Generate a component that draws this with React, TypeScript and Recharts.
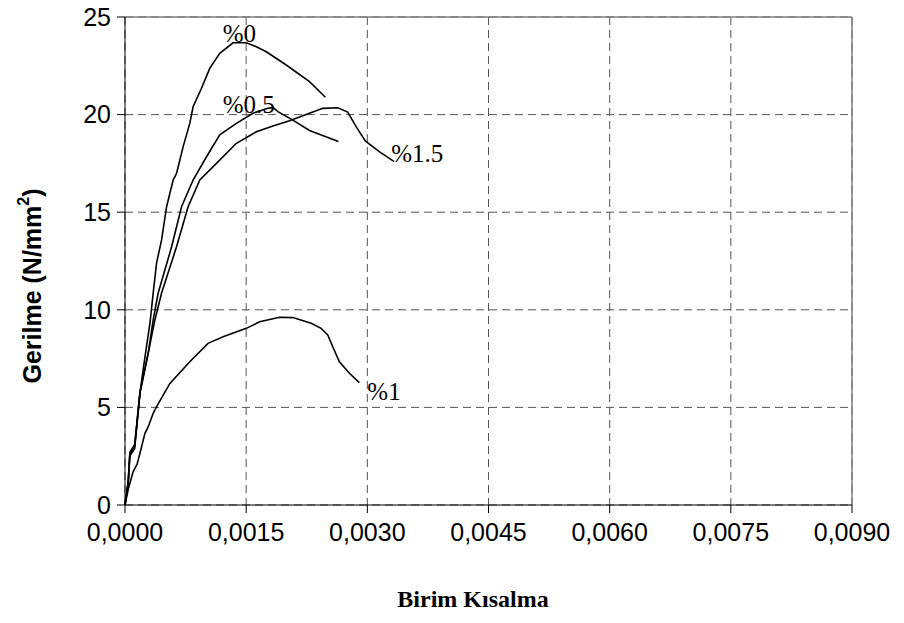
import React from "react";
import {
  ComposedChart,
  Line,
  Scatter,
  XAxis,
  YAxis,
  CartesianGrid,
  ReferenceLine,
} from "recharts";

// Birim kısalma (strain) ve gerilme (N/mm2) değerleri
const strain0 = [0, 0.00004, 0.00006, 0.00012, 0.000185, 0.000247, 0.000309, 0.000349, 0.000391, 0.000453, 0.000515, 0.000596, 0.000638, 0.00072, 0.000802, 0.000843, 0.000947, 0.001049, 0.001173, 0.001337, 0.001502, 0.001626, 0.001749, 0.001996, 0.002284, 0.002481];
const stress0 = [0, 1.2, 2.7, 3.1, 5.74, 7.58, 9.32, 10.86, 12.4, 13.58, 15.28, 16.65, 16.99, 18.36, 19.55, 20.4, 21.35, 22.37, 23.14, 23.68, 23.68, 23.48, 23.22, 22.54, 21.69, 20.89];

const strain05 = [0, 0.00004, 0.00006, 0.00012, 0.000185, 0.000288, 0.000349, 0.000411, 0.000577, 0.0007, 0.000843, 0.001009, 0.001173, 0.001379, 0.001584, 0.001769, 0.001831, 0.001893, 0.002078, 0.002284, 0.002642];
const stress05 = [0, 1.2, 2.6, 3.0, 5.74, 7.79, 9.48, 10.86, 13.23, 15.28, 16.65, 17.84, 18.96, 19.55, 20.07, 20.32, 20.37, 20.15, 19.72, 19.19, 18.62];

const strain1 = [0, 0.00004, 0.0001, 0.00015, 0.000185, 0.000247, 0.000288, 0.000349, 0.000391, 0.000556, 0.000802, 0.001028, 0.001214, 0.001502, 0.001667, 0.001914, 0.002078, 0.002305, 0.002428, 0.00251, 0.002572, 0.002654, 0.002778, 0.002901];
const stress1 = [0, 0.8, 1.7, 2.1, 2.65, 3.67, 4.01, 4.7, 5.04, 6.23, 7.34, 8.28, 8.62, 9.05, 9.39, 9.62, 9.6, 9.31, 9.05, 8.71, 8.11, 7.34, 6.75, 6.27];

const strain15 = [0, 0.00004, 0.00006, 0.00012, 0.000185, 0.000288, 0.00037, 0.000453, 0.000638, 0.000781, 0.000926, 0.001132, 0.001379, 0.001626, 0.001831, 0.002037, 0.002284, 0.002448, 0.002633, 0.002757, 0.002861, 0.002975, 0.003148, 0.003333];
const stress15 = [0, 1.1, 2.5, 2.9, 5.74, 7.79, 9.48, 10.86, 13.23, 15.28, 16.65, 17.5, 18.53, 19.12, 19.42, 19.69, 20.07, 20.32, 20.35, 20.13, 19.38, 18.65, 18.1, 17.59];

// Eğri etiketleri
const labelNames = ["%0", "%0.5", "%1.5", "%1"];
const labelStrain = [0.00121, 0.00121, 0.003296, 0.003];
const labelStress = [23.7, 20.08, 17.57, 5.38];

const xTicks = [0, 0.0015, 0.003, 0.0045, 0.006, 0.0075, 0.009];
const yTicks = [0, 5, 10, 15, 20, 25];

const toPoints = (xs: number[], ys: number[]) =>
  xs.map((x, i) => ({ x, y: ys[i] }));

const series = [
  toPoints(strain0, stress0),
  toPoints(strain05, stress05),
  toPoints(strain1, stress1),
  toPoints(strain15, stress15),
];

const labelData = labelNames.map((name, i) => ({
  x: labelStrain[i],
  y: labelStress[i],
  name,
}));

const fmtX = (v: number) => v.toFixed(4).replace(".", ",");

const CurveLabel = (props: any) => {
  const { cx, cy, payload } = props;
  return (
    <text
      x={cx}
      y={cy}
      fontFamily="'Liberation Serif', 'Times New Roman', serif"
      fontSize={25}
      fill="#000"
    >
      {payload.name}
    </text>
  );
};

const YTitle = () => {
  const cx = 32;
  const cy = 286;
  return (
    <text
      x={cx}
      y={cy}
      transform={`rotate(-90, ${cx}, ${cy})`}
      textAnchor="middle"
      dominantBaseline="central"
      fontFamily="'Liberation Sans', Arial, sans-serif"
      fontWeight="bold"
      fontSize={25}
      fill="#000"
    >
      Gerilme (N/mm
      <tspan baselineShift="super" fontSize={16}>
        2
      </tspan>
      )
    </text>
  );
};

const XTitle = () => (
  <text
    x={473}
    y={607}
    textAnchor="middle"
    fontFamily="'Liberation Serif', 'Times New Roman', serif"
    fontWeight="bold"
    fontSize={24}
    fill="#000"
  >
    Birim Kısalma
  </text>
);

export default function App() {
  return (
    <div style={{ position: "absolute", left: 0, top: 0, background: "#fff" }}>
      <ComposedChart
        width={904}
        height={623}
        margin={{ top: 17, right: 52, bottom: 0, left: 0 }}
      >
        <CartesianGrid stroke="#555" strokeDasharray="8 5" />
        <XAxis
          type="number"
          dataKey="x"
          domain={[0, 0.009]}
          ticks={xTicks}
          tickFormatter={fmtX}
          height={118}
          stroke="#000"
          tickSize={8}
          tick={{
            fill: "#000",
            fontSize: 25,
            fontFamily: "'Liberation Sans', Arial, sans-serif",
          }}
          tickMargin={10}
          label={<XTitle />}
        />
        <YAxis
          type="number"
          dataKey="y"
          domain={[0, 25]}
          ticks={yTicks}
          width={125}
          stroke="#000"
          tickSize={8}
          tick={{
            fill: "#000",
            fontSize: 25,
            fontFamily: "'Liberation Sans', Arial, sans-serif",
          }}
          tickMargin={6}
          label={<YTitle />}
        />
        <ReferenceLine y={25} stroke="#808080" strokeWidth={1.5} />
        <ReferenceLine x={0.009} stroke="#808080" strokeWidth={1.5} />
        {series.map((d, i) => (
          <Line
            key={i}
            data={d}
            dataKey="y"
            type="linear"
            stroke="#000"
            strokeWidth={1.6}
            dot={false}
            isAnimationActive={false}
          />
        ))}
        <Scatter
          data={labelData}
          dataKey="y"
          shape={<CurveLabel />}
          isAnimationActive={false}
        />
      </ComposedChart>
    </div>
  );
}
